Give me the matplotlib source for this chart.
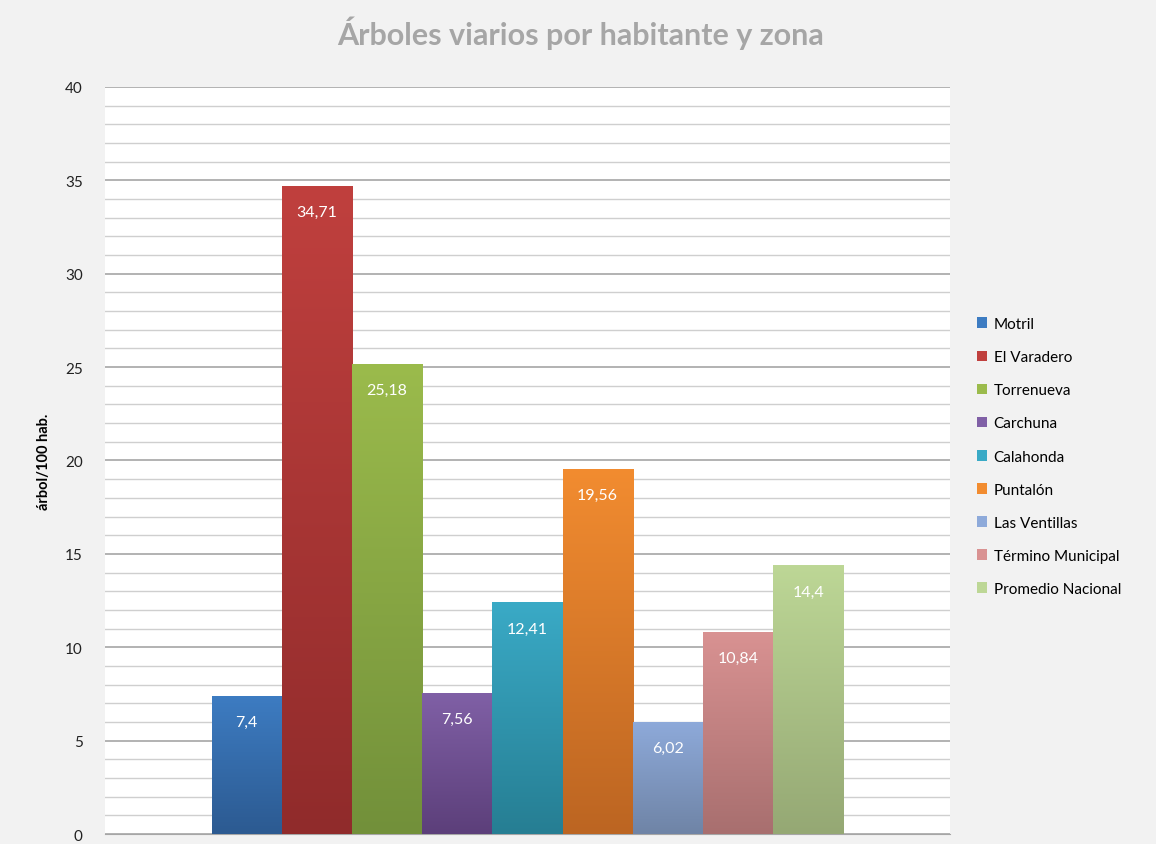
import numpy as np
import matplotlib.pyplot as plt
from matplotlib.colors import LinearSegmentedColormap
from matplotlib.patches import Patch

zonas = ["Motril", "El Varadero", "Torrenueva", "Carchuna", "Calahonda",
         "Puntalón", "Las Ventillas", "Término Municipal", "Promedio Nacional"]
valores = [7.4, 34.71, 25.18, 7.56, 12.41, 19.56, 6.02, 10.84, 14.4]
etiquetas = ["7,4", "34,71", "25,18", "7,56", "12,41", "19,56", "6,02", "10,84", "14,4"]

# top / bottom colour of each gradient bar
color_arriba = ["#3d7cc2", "#c0403e", "#9bbb4c", "#8060a6", "#3aaac6",
                "#f28c30", "#8eaada", "#d99292", "#bdd796"]
color_abajo = ["#2c5a91", "#902b2b", "#72903a", "#5c3f7a", "#267e93",
               "#bc6522", "#6f84a6", "#a86f6f", "#95a874"]

plt.rcParams['font.family'] = ['Lato', 'DejaVu Sans']

fig = plt.figure(figsize=(11.56, 8.45), dpi=100)
fig.patch.set_facecolor("#f2f2f2")
ax = fig.add_axes([0.0908, 0.0118, 0.7310, 0.8841])
ax.set_facecolor("white")

x = np.arange(len(valores))
bars = ax.bar(x, valores, width=1.0, color=color_arriba, zorder=3)

ax.set_ylim(0, 40)
ax.set_xlim(-0.5 - 1.52, len(valores) - 0.5 + 1.52)

# gradient fill for each bar
for b, c1, c2 in zip(bars, color_arriba, color_abajo):
    cmap = LinearSegmentedColormap.from_list("g", [c2, c1])
    x0, y0 = b.get_x(), b.get_y()
    w, h = b.get_width(), b.get_height()
    grad = np.linspace(0, 1, 256).reshape(-1, 1)
    im = ax.imshow(grad, cmap=cmap, aspect="auto", origin="lower",
                   extent=(x0, x0 + w, y0, y0 + h), zorder=3.5)
    im.set_clip_path(b)

for xi, v, t in zip(x, valores, etiquetas):
    ax.annotate(t, (xi, v), xytext=(0, -19), textcoords="offset points",
                ha="center", va="center", color="white", fontsize=11.5, zorder=5)

ax.set_yticks(np.arange(0, 41, 5))
ax.set_yticks(np.arange(0, 41, 1), minor=True)
ax.grid(axis="y", which="major", color="#a6a6a6", linewidth=1.2, zorder=0)
ax.grid(axis="y", which="minor", color="#cfcfcf", linewidth=1.0, zorder=0)
ax.set_xticks([])
ax.tick_params(axis="y", which="both", length=0, labelsize=11, pad=16, colors="#222222")
for s in ["top", "right", "left"]:
    ax.spines[s].set_visible(False)
ax.spines["bottom"].set_color("#a6a6a6")

ax.set_ylabel("árbol/100 hab.", fontsize=10.5, fontweight="bold", labelpad=10)

fig.text(0.502, 0.961, "Árboles viarios por habitante y zona", ha="center",
         va="center", fontsize=22, fontweight="bold", color="#a6a6a6")

handles = [Patch(facecolor=c, edgecolor="none") for c in color_arriba]
leg = fig.legend(handles, zonas, loc="center left", bbox_to_anchor=(0.833, 0.4585),
                 frameon=False, fontsize=11, handlelength=0.7, handleheight=0.7,
                 handletextpad=0.4, labelspacing=1.25)

fig.savefig("out.png", dpi=100, facecolor=fig.get_facecolor())
